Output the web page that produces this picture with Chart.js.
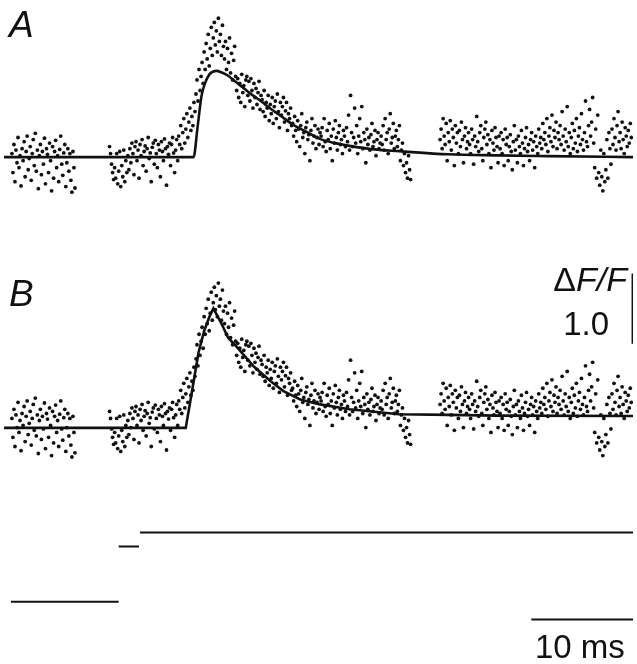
<!DOCTYPE html>
<html>
<head>
<meta charset="utf-8">
<script src="https://cdn.jsdelivr.net/npm/chart.js@4"></script>
<style>
html,body{margin:0;padding:0;background:#fff;}
#c{display:block;}
</style>
</head>
<body>
<canvas id="c" width="637" height="664"></canvas>
<script>
// ---------- DATA ----------
// Fluorescence samples (ΔF/F), sampled every 0.1 ms; three recorded stretches
const sampleInterval = 0.1; // ms
const segmentStart = [0, 9.6, 42.1]; // ms
const seg1 = [0.05,-0.22,0.18,-0.35,0.10,-0.08,0.28,-0.15,0.02,-0.41,
0.12,-0.05,0.22,-0.28,0.08,0.30,-0.18,-0.02,0.15,-0.33,
0.05,0.25,-0.12,0.34,-0.20,0.10,-0.45,0.02,0.18,-0.25,
0.08,-0.10,0.27,-0.38,0.12,0.04,-0.22,0.20,-0.05,-0.48,
0.15,-0.30,0.08,0.24,-0.15,0.02,-0.35,0.11,0.30,-0.10,
-0.26,0.06,0.18,-0.42,-0.08,0.12,-0.20,0.05,-0.33,-0.50,
0.08,-0.15,-0.44];
const seg2 = [0.15,0.05,-0.10,-0.22,-0.32,
-0.15,-0.30,0.05,-0.38,-0.20,0.08,-0.42,-0.12,-0.28,0.10,-0.35,-0.05,-0.22,0.02,-0.18,
0.12,-0.08,0.20,0.05,-0.25,0.15,0.22,-0.05,0.10,-0.30,
0.18,0.02,0.25,-0.12,0.08,0.16,-0.20,0.12,0.28,-0.02,
0.06,-0.35,0.14,0.20,-0.10,0.24,0.05,-0.15,0.18,0.10,
-0.28,0.22,0.08,-0.05,0.26,0.12,-0.40,0.15,0.04,0.20,
-0.12,0.18,0.28,0.06,-0.22,
0.10,0.25,-0.05,0.30,0.18,0.45,0.12,0.35,0.55,0.20,
0.40,0.62,0.28,0.50,0.70,0.38,0.58,0.45,0.78,
0.65,0.90,1.10,0.80,1.25,0.95,1.15,
1.35,1.05,1.50,1.25,1.62,1.40,1.75,1.30,
1.55,1.85,1.45,1.70,1.92,1.60,1.80,1.50,1.98,1.65,1.75,1.45,1.88,1.58,
1.40,1.65,1.25,1.55,1.35,1.70,1.20,1.48,1.10,1.38,1.58,1.15,
0.95,1.12,0.85,1.05,0.78,1.18,0.92,1.02,0.72,1.10,
1.15,0.88,1.08,0.80,1.12,0.95,0.70,1.05,0.85,0.98,
0.75,0.92,1.08,0.68,0.88,
0.82,0.65,0.95,0.58,0.78,0.70,0.88,0.52,0.75,0.62,
0.85,0.48,0.72,0.80,0.55,0.90,0.65,0.42,0.78,0.60,
0.72,0.85,0.50,0.66,0.78,0.38,0.62,0.55,0.70,0.45,
0.48,0.30,0.58,0.38,0.22,0.52,0.40,0.15,0.45,0.62,
0.28,0.35,0.05,0.42,0.50,0.25,0.32,-0.05,0.38,0.55,
0.20,0.30,0.45,0.12,0.28,0.40,0.18,0.35,
0.30,0.42,0.15,0.55,0.22,0.08,0.38,0.25,0.48,0.12,
0.30,-0.05,0.40,0.20,0.52,0.28,0.10,0.35,0.45,0.18,
0.25,0.05,0.38,0.30,0.15,0.42,0.22,0.60,0.10,
0.88,0.35,0.15,0.28,0.70,0.20,0.45,0.05,0.30,0.55,
0.22,0.72,0.12,0.35,0.25,-0.08,0.40,0.18,0.28,0.10,
0.32,0.48,0.15,0.22,0.38,0.02,0.25,0.35,0.12,0.20,
0.30,0.18,0.45,0.10,0.55,0.25,0.35,0.05,0.40,0.62,
0.20,0.28,0.48,0.12,0.30,0.38,0.15,0.25,0.45,-0.05,
0.10,0.20,-0.12,0.05,-0.22,-0.08,-0.30,0.02,-0.18,-0.32];
const seg3 = [0.25,0.40,0.12,0.55,0.30,0.18,0.48,-0.05,0.35,0.22,
0.52,0.10,0.40,0.28,-0.12,0.45,0.20,0.35,0.05,0.38,
0.15,0.50,0.25,-0.08,0.30,0.42,0.12,0.22,0.35,
0.18,0.05,0.40,0.25,-0.10,0.30,0.15,0.58,0.22,0.08,
0.35,0.45,0.12,-0.05,0.28,0.40,0.50,0.18,0.32,0.05,
0.25,-0.15,0.38,0.20,0.10,0.42,0.28,0.15,-0.08,0.30,
0.12,0.35,0.05,0.25,-0.12,0.40,0.18,0.28,-0.05,0.15,
0.32,0.08,-0.18,0.22,0.45,0.10,0.25,-0.08,0.30,0.15,
0.05,0.38,0.20,-0.12,0.12,0.28,0.42,0.08,0.18,-0.05,
0.25,0.35,0.10,0.22,-0.15,0.30,0.15,0.05,0.40,0.20,
0.28,0.12,0.48,0.25,0.35,0.18,0.55,0.08,0.30,0.42,
0.22,0.60,0.15,0.38,0.28,0.50,0.12,0.35,0.25,
0.45,0.18,0.65,0.30,0.10,0.40,0.22,0.72,0.15,0.35,
0.05,0.28,0.48,0.12,0.38,0.20,0.55,0.08,0.30,0.42,
0.18,0.62,0.25,0.10,0.35,0.80,0.22,0.15,0.45,
0.68,0.30,0.50,0.85,0.20,-0.15,0.40,-0.30,0.60,-0.22,
-0.40,0.10,-0.28,-0.48,0.05,-0.35,-0.18,0.25,-0.30,0.35,0.12,-0.10,
0.40,0.18,0.55,0.28,0.10,0.45,0.65,0.22,0.35,0.12,
0.50,0.25,0.05,0.42,0.30,0.15,0.38,0.20,0.48,0.28];

// Model fit, panel A
const fitATime  = [-0.8,17.86,18.25,18.64,19.03,19.42,19.81,20.10,20.58,21.26,22.04,22.82,23.69,24.47,25.44,26.41,27.67,28.83,30.29,31.75,33.20,35.63,38.06,42.91,47.77,52.62,61.1];
const fitAValue = [0,0,0.42,0.87,1.07,1.18,1.22,1.23,1.21,1.16,1.07,0.98,0.88,0.80,0.69,0.59,0.46,0.37,0.26,0.20,0.16,0.11,0.085,0.04,0.025,0.015,0.0];
// Model fit, panel B
const fitBTime  = [-0.8,17.09,17.57,18.35,18.93,19.42,19.81,20.58,21.26,22.04,23.79,25.44,26.70,28.35,30.29,33.20,38.06,42.91,47.77,61.1];
const fitBValue = [-0.085,-0.085,0.32,0.99,1.31,1.50,1.62,1.41,1.20,1.08,0.79,0.58,0.44,0.32,0.25,0.18,0.11,0.10,0.09,0.085];

// Stimulus protocol (mV): three levels
const stimStart = [-0.1, 10.5, 12.6];
const stimEnd   = [10.5, 12.5, 61.2];
const stimLevel = [-80, 0, 20];

// Scale bars
const scaleBarTime = 10;   // ms
const scaleBarDF   = 1.0;  // ΔF/F
const panelLabels = ['A','B'];

// ---------- LAYOUT (plot units) ----------
const panelOffset = [0, -3.775];     // ΔF/F offset of each panel
const xRange = [-0.777, 61.068];     // ms
const yRange = [-7.169, 2.183];      // ΔF/F plot units
const y2Range = [-164.3, 784.3];     // mV for stimulus axis
const dfBarPos = {t: 61.0, y: -2.66};
const timeBarPos = {t: 51.068, y: -6.592};

// ---------- BUILD ----------
function samplePoints(offset){
  const pts = [];
  [seg1, seg2, seg3].forEach((seg, s) => {
    seg.forEach((v, i) => pts.push({x: segmentStart[s] + i*sampleInterval, y: v + offset}));
  });
  return pts;
}
function curvePoints(ts, vs, offset){ return ts.map((t,i)=>({x:t, y:vs[i]+offset})); }
const stimPts = [];
stimLevel.forEach((lv,i)=>{
  stimPts.push({x:stimStart[i], y:lv});
  stimPts.push({x:stimEnd[i], y:lv});
  stimPts.push({x:stimEnd[i], y:null});
});

const INK = '#111111';
const dotStyle = {showLine:false, pointRadius:1.9, pointBackgroundColor:INK, pointBorderWidth:0, pointBorderColor:INK};
const lineStyle = {showLine:true, pointRadius:0, borderColor:INK, fill:false};

const FONT = '"Liberation Sans", Arial, sans-serif';
const textPlugin = {
  id:'texts',
  afterDatasetsDraw(chart){
    const ctx = chart.ctx;
    ctx.save();
    ctx.fillStyle = INK;
    ctx.textBaseline = 'alphabetic';
    ctx.textAlign = 'left';
    ctx.font = 'italic 37px ' + FONT;
    ctx.fillText(panelLabels[0], 9, 37);
    ctx.fillText(panelLabels[1], 9, 306);
    // ΔF/F label
    const size = 34;
    ctx.font = size + 'px ' + FONT;
    const d = 'Δ';
    const dw = ctx.measureText(d).width;
    ctx.font = 'italic ' + size + 'px ' + FONT;
    const fw = ctx.measureText('F/F').width;
    const right = 627;
    const left = right - dw - fw;
    ctx.font = size + 'px ' + FONT;
    ctx.fillText(d, left, 291);
    ctx.font = 'italic ' + size + 'px ' + FONT;
    ctx.fillText('F/F', left + dw, 291);
    ctx.font = '33px ' + FONT;
    ctx.textAlign = 'right';
    ctx.fillText(scaleBarDF.toFixed(1), 609, 335);
    ctx.textAlign = 'left';
    ctx.font = '33px ' + FONT;
    ctx.fillText(scaleBarTime + ' ms', 535, 658);
    ctx.restore();
  }
};

new Chart(document.getElementById('c'), {
  type:'scatter',
  data:{datasets:[
    Object.assign({label:'A data', data:samplePoints(panelOffset[0])}, dotStyle),
    Object.assign({label:'B data', data:samplePoints(panelOffset[1])}, dotStyle),
    Object.assign({label:'A fit', data:curvePoints(fitATime, fitAValue, panelOffset[0]), borderWidth:2.6, cubicInterpolationMode:'monotone'}, lineStyle),
    Object.assign({label:'B fit', data:curvePoints(fitBTime, fitBValue, panelOffset[1]), borderWidth:2.6, tension:0}, lineStyle),
    Object.assign({label:'Stimulus', data:stimPts, borderWidth:2, yAxisID:'y2', spanGaps:false}, lineStyle),
    Object.assign({label:'ΔF/F bar', data:[{x:dfBarPos.t, y:dfBarPos.y},{x:dfBarPos.t, y:dfBarPos.y+scaleBarDF}], borderWidth:1.5}, lineStyle),
    Object.assign({label:'time bar', data:[{x:timeBarPos.t, y:timeBarPos.y},{x:timeBarPos.t+scaleBarTime, y:timeBarPos.y}], borderWidth:2}, lineStyle)
  ]},
  options:{
    responsive:false,
    animation:false,
    devicePixelRatio:1,
    layout:{padding:0},
    plugins:{legend:{display:false}, tooltip:{enabled:false}},
    scales:{
      x:{type:'linear', min:xRange[0], max:xRange[1], display:false},
      y:{type:'linear', min:yRange[0], max:yRange[1], display:false},
      y2:{type:'linear', min:y2Range[0], max:y2Range[1], display:false}
    }
  },
  plugins:[textPlugin]
});
</script>
</body>
</html>
